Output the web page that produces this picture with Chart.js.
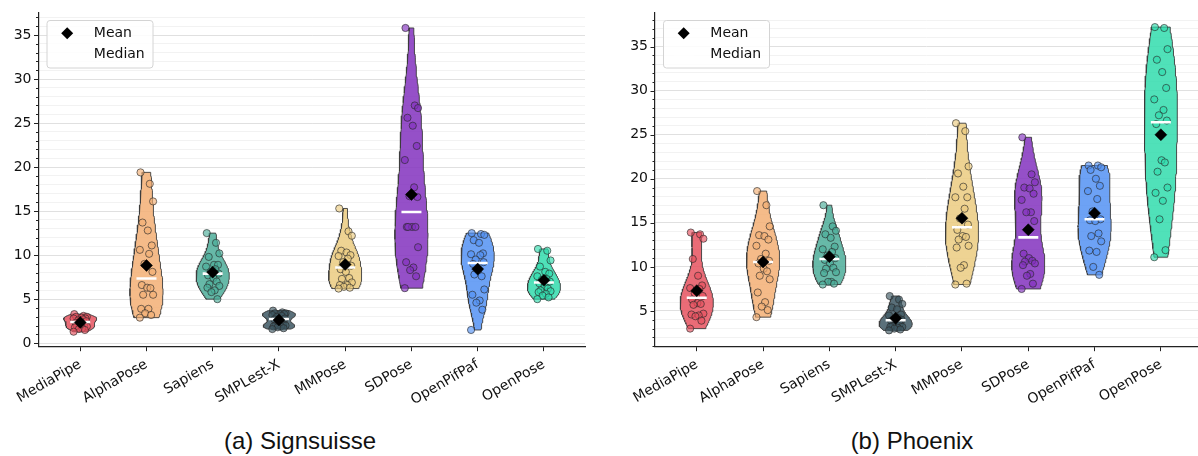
<!DOCTYPE html>
<html>
<head>
<meta charset="utf-8">
<script src="https://cdn.jsdelivr.net/npm/chart.js@4.4.0/dist/chart.umd.min.js"></script>
<style>
  html, body { margin: 0; padding: 0; background: #fff; }
  body { width: 1198px; height: 456px; position: relative; overflow: hidden; }
  .panel { position: absolute; top: 0; height: 420px; }
  .caption { position: absolute; top: 426px; width: 300px; text-align: center;
             font-family: "Liberation Sans", Arial, sans-serif; font-size: 24px;
             line-height: 30px; color: #111; }
</style>
</head>
<body>
<div class="panel" style="left:0;width:595px"><canvas id="chartA" width="595" height="420"></canvas></div>
<div class="panel" style="left:600px;width:598px"><canvas id="chartB" width="598" height="420"></canvas></div>
<div class="caption" style="left:150px">(a) Signsuisse</div>
<div class="caption" style="left:762px">(b) Phoenix</div>
<script>
// methods on the x axis, same order in both panels
const methods = ["MediaPipe", "AlphaPose", "Sapiens", "SMPLest-X", "MMPose", "SDPose", "OpenPifPaf", "OpenPose"];
const colors = ["rgb(230,82,95)", "rgb(243,175,116)", "rgb(76,173,153)", "rgb(61,87,99)",
                "rgb(235,203,128)", "rgb(131,49,190)", "rgb(84,146,243)", "rgb(49,220,173)"];

// (a) Signsuisse, one value per sample
const signMediaPipe = [3.3, 3.1, 3.0, 3.0, 2.9, 2.8, 2.8, 2.7, 2.6, 2.5, 2.3, 2.2, 2.1, 2.0, 1.9, 1.8, 1.7, 1.6, 1.5, 1.3];
const signAlphaPose = [19.4, 18.1, 16.1, 13.7, 12.8, 11.1, 10.6, 10.15, 9.0, 8.1, 6.6, 6.3, 6.25, 5.5, 5.5, 3.9, 3.9, 3.4, 3.2, 2.9];
const signSapiens = [12.5, 11.4, 10.2, 9.8, 8.9, 8.9, 8.7, 8.4, 8.1, 7.9, 7.7, 7.4, 7.0, 6.7, 6.5, 6.3, 6.0, 5.8, 5.0];
const signSMPLestX = [3.7, 3.5, 3.4, 3.4, 3.3, 3.3, 3.2, 3.1, 3.0, 2.8, 2.7, 2.2, 2.1, 2.0, 2.0, 1.9, 1.9, 1.8, 1.7, 1.6];
const signMMPose = [15.3, 12.7, 12.2, 10.5, 10.3, 10.0, 9.9, 9.6, 9.2, 8.8, 8.4, 8.1, 7.4, 7.3, 6.9, 6.6, 6.6, 6.4, 6.3, 6.2];
const signSDPose = [35.8, 27.0, 26.7, 25.6, 24.7, 22.4, 20.8, 17.7, 16.7, 16.6, 13.2, 13.2, 13.2, 13.2, 10.9, 9.2, 8.6, 8.3, 7.6, 6.25];
const signOpenPifPaf = [12.5, 12.4, 12.3, 11.7, 11.4, 10.2, 10.1, 10.0, 9.5, 9.2, 9.0, 8.3, 7.6, 7.8, 6.1, 5.5, 4.85, 4.6, 3.8, 1.5];
const signOpenPose = [10.7, 10.5, 9.4, 8.7, 8.1, 7.9, 7.6, 7.3, 7.2, 7.0, 6.8, 6.5, 6.2, 6.0, 5.9, 5.8, 5.6, 5.4, 5.2, 5.0];

// (b) Phoenix
const phxMediaPipe = [13.9, 13.7, 13.2, 10.9, 9.0, 7.9, 7.6, 7.5, 7.0, 6.7, 6.3, 5.9, 5.8, 5.7, 4.7, 4.6, 4.5, 4.4, 3.9, 3.0];
const phxAlphaPose = [18.6, 17.0, 14.6, 13.6, 13.5, 13.1, 12.4, 11.5, 10.9, 10.7, 10.4, 9.8, 9.5, 9.0, 8.6, 7.1, 6.0, 5.5, 5.1, 4.3];
const phxSapiens = [17.0, 14.6, 14.1, 13.7, 13.3, 12.3, 12.0, 11.7, 11.3, 11.0, 10.8, 10.4, 9.9, 9.8, 9.4, 9.3, 8.3, 8.3, 8.1, 8.0];
const phxSMPLestX = [6.7, 6.3, 5.8, 5.4, 5.2, 4.6, 4.5, 4.2, 4.1, 4.0, 3.9, 3.7, 3.5, 3.3, 3.2, 3.2, 3.1, 3.0, 2.9, 2.8];
const phxMMPose = [26.3, 25.4, 21.4, 20.6, 19.1, 17.9, 17.9, 16.6, 15.5, 14.8, 14.2, 13.5, 13.4, 13.1, 12.4, 12.2, 10.2, 9.9, 8.1, 8.0];
const phxSDPose = [24.7, 20.5, 19.6, 19.0, 18.9, 18.3, 17.6, 16.2, 16.2, 15.2, 11.5, 11.0, 10.7, 10.6, 10.4, 10.2, 9.2, 9.0, 8.1, 7.5];
const phxOpenPifPaf = [21.5, 21.5, 21.3, 21.0, 20.0, 19.2, 18.6, 17.7, 16.3, 15.4, 15.3, 15.2, 13.8, 13.5, 12.9, 11.85, 11.7, 10.0, 9.1];
const phxOpenPose = [37.2, 37.1, 34.7, 33.5, 32.1, 30.3, 29.0, 27.8, 27.2, 26.6, 26.2, 22.1, 21.85, 20.8, 19.0, 18.4, 17.5, 15.4, 11.9, 11.1];

// strip plot jitter (category units), reused for every group
const jitter = [-0.09, 0.05, 0.1, -0.06, 0.02, 0.08, -0.1, 0.04, -0.03, 0.09, -0.07, 0.01, 0.06, -0.05, 0.1, -0.08, 0.03, -0.02, 0.07, -0.1, 0.05, 0.0];

const tick_font = { family: "DejaVu Sans", size: 14 };

function with_alpha(rgb, a) {
    return rgb.replace("rgb(", "rgba(").replace(")", "," + a + ")");
}

function mean_of(values) {
    return values.reduce((s, v) => s + v, 0) / values.length;
}

function median_of(values) {
    const s = [...values].sort((a, b) => a - b);
    const m = Math.floor(s.length / 2);
    return s.length % 2 ? s[m] : (s[m - 1] + s[m]) / 2;
}

// gaussian kde (scott bandwidth), cut at the data range, width-normalised
function violin_outline(values, center, half_width) {
    const n = values.length;
    const m = mean_of(values);
    const sd = Math.sqrt(values.reduce((s, v) => s + (v - m) ** 2, 0) / (n - 1));
    const bw = sd * Math.pow(n, -1 / 5);
    const lo = Math.min(...values), hi = Math.max(...values);
    const steps = 80;
    const dens = [];
    for (let k = 0; k <= steps; k++) {
        const y = lo + (hi - lo) * k / steps;
        let d = 0;
        for (const v of values) d += Math.exp(-0.5 * ((y - v) / bw) ** 2);
        dens.push({ y, d });
    }
    const dmax = Math.max(...dens.map(p => p.d));
    const right = dens.map(p => ({ x: center + half_width * p.d / dmax, y: p.y }));
    const left = dens.map(p => ({ x: center - half_width * p.d / dmax, y: p.y })).reverse();
    return [...right, ...left, right[0]];
}

function build_datasets(groups) {
    const sets = [];
    groups.forEach((values, i) => {
        sets.push({
            type: "line",
            data: violin_outline(values, i, 0.25),
            borderColor: "rgba(60,60,60,0.9)",
            borderWidth: 1,
            backgroundColor: with_alpha(colors[i], 0.85),
            fill: "shape",
            pointRadius: 0,
            tension: 0,
            order: 4
        });
        sets.push({
            type: "scatter",
            data: values.map((v, k) => ({ x: i + jitter[k % jitter.length], y: v })),
            backgroundColor: with_alpha(colors[i], 0.65),
            borderColor: "rgba(40,40,40,0.7)",
            borderWidth: 0.9,
            pointRadius: 3.6,
            order: 3
        });
    });
    sets.push({
        type: "scatter",
        label: "Median",
        data: groups.map((values, i) => ({ x: i, y: median_of(values) })),
        pointStyle: "line",
        pointRadius: 10,
        borderColor: "#ffffff",
        borderWidth: 2.6,
        order: 2
    });
    sets.push({
        type: "scatter",
        label: "Mean",
        data: groups.map((values, i) => ({ x: i, y: mean_of(values) })),
        pointStyle: "rectRot",
        pointRadius: 6,
        backgroundColor: "#000000",
        borderColor: "#000000",
        borderWidth: 0.5,
        order: 1
    });
    return sets;
}

// y tick marks (long at labels, short in between) and the boxed legend
const axis_extras = {
    id: "axis_extras",
    afterDraw(chart) {
        const ctx = chart.ctx;
        const ys = chart.scales.y;
        const area = chart.chartArea;
        ctx.save();
        ctx.strokeStyle = "#222";
        ctx.lineWidth = 1;
        ys.ticks.forEach(t => {
            const p = Math.round(ys.getPixelForValue(t.value)) + 0.5;
            const len = t.value % 5 === 0 ? 4.5 : 2.5;
            ctx.beginPath();
            ctx.moveTo(area.left - len, p);
            ctx.lineTo(area.left, p);
            ctx.stroke();
        });

        const x0 = area.left + 8, y0 = 20, w = 106, h = 47.5;
        ctx.fillStyle = "rgba(255,255,255,0.85)";
        ctx.strokeStyle = "#d4d4d4";
        ctx.beginPath();
        ctx.roundRect(x0 + 0.5, y0 + 0.5, w, h, 3);
        ctx.fill();
        ctx.stroke();

        const r = 6, dx = x0 + 20.7, dy = y0 + 13.3;
        ctx.fillStyle = "#000";
        ctx.beginPath();
        ctx.moveTo(dx - r, dy);
        ctx.lineTo(dx, dy - r);
        ctx.lineTo(dx + r, dy);
        ctx.lineTo(dx, dy + r);
        ctx.closePath();
        ctx.fill();

        ctx.strokeStyle = "#fff";
        ctx.lineWidth = 2.6;
        ctx.beginPath();
        ctx.moveTo(dx - 10, dy + 21);
        ctx.lineTo(dx + 10, dy + 21);
        ctx.stroke();

        ctx.fillStyle = "#111";
        ctx.font = "14px 'DejaVu Sans'";
        ctx.textBaseline = "middle";
        ctx.fillText("Mean", x0 + 47.3, dy + 0.5);
        ctx.fillText("Median", x0 + 47.3, dy + 21.5);
        ctx.restore();
    }
};

function make_chart(canvas_id, groups, x_max, y_min, y_max, y_width, pad_right) {
    return new Chart(document.getElementById(canvas_id), {
        type: "scatter",
        data: { datasets: build_datasets(groups) },
        options: {
            responsive: false,
            animation: false,
            events: [],
            layout: { autoPadding: false, padding: { top: 13, right: pad_right, left: 0, bottom: 0 } },
            plugins: { legend: { display: false }, tooltip: { enabled: false } },
            scales: {
                x: {
                    type: "linear",
                    min: -0.63,
                    max: x_max,
                    grid: { drawOnChartArea: false, drawTicks: true, tickLength: 4.5, tickColor: "#222", tickWidth: 1 },
                    border: { color: "#222", width: 1.2 },
                    ticks: {
                        stepSize: 1, autoSkip: false, includeBounds: false,
                        maxRotation: 30, minRotation: 30, padding: 5,
                        color: "#111", font: tick_font,
                        callback: v => methods[v] ?? ""
                    },
                    afterFit: s => { s.height = 73.3; s.paddingLeft = 0; s.paddingRight = 0; }
                },
                y: {
                    min: y_min,
                    max: y_max,
                    grid: {
                        drawTicks: false,
                        lineWidth: 1,
                        color: c => c.tick && c.tick.value % 5 === 0 ? "#e0e0e0" : "#f2f2f2"
                    },
                    border: { color: "#222", width: 1.2 },
                    ticks: {
                        stepSize: 1, autoSkip: false, includeBounds: false, padding: 7,
                        color: "#111", font: tick_font,
                        callback: v => v % 5 === 0 ? String(v) : ""
                    },
                    afterFit: s => { s.width = y_width; s.paddingTop = 0; s.paddingBottom = 0; }
                }
            }
        },
        plugins: [axis_extras]
    });
}

make_chart("chartA",
    [signMediaPipe, signAlphaPose, signSapiens, signSMPLestX, signMMPose, signSDPose, signOpenPifPaf, signOpenPose],
    7.62, -0.4, 37.5, 38.5, 10);
make_chart("chartB",
    [phxMediaPipe, phxAlphaPose, phxSapiens, phxSMPLestX, phxMMPose, phxSDPose, phxOpenPifPaf, phxOpenPose],
    7.56, 0.95, 38.8, 55, 0);
</script>
</body>
</html>
